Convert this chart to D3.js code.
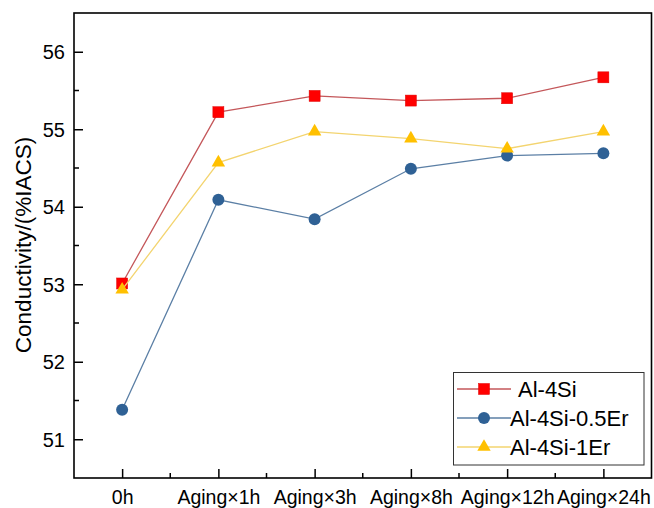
<!DOCTYPE html>
<html>
<head>
<meta charset="utf-8">
<script src="https://cdn.jsdelivr.net/npm/d3@7"></script>
<style>
  body{margin:0;background:#fff;}
  text{font-family:"Liberation Sans", Arial, sans-serif;fill:#000;}
</style>
</head>
<body>
<script>

//******************************************************************************
// Data ************************************************************************

    var categories = ["0h","Aging\u00d71h","Aging\u00d73h","Aging\u00d78h","Aging\u00d712h","Aging\u00d724h"];

    var al4Si      = [53.01, 55.22, 55.43, 55.37, 55.40, 55.67];
    var al4Si05Er  = [51.38, 54.09, 53.84, 54.49, 54.66, 54.69];
    var al4Si1Er   = [52.93, 54.57, 54.97, 54.88, 54.75, 54.97];

    var seriesNames = ["Al-4Si", "Al-4Si-0.5Er", "Al-4Si-1Er"];

    var yTicks = [51, 52, 53, 54, 55, 56];
    var yMinorTicks = [51.5, 52.5, 53.5, 54.5, 55.5];


//******************************************************************************
// Variables *******************************************************************

    var windowSettings = {
        width : 654,//px
        height : 508,//px
    };

    var graphSettings = {
        marginLeft : 74,//px
        marginTop : 13,//px
        right : 651.5,//px
        bottom : 478,//px

        yMin : 50.5,
        yMax : 56.5,

        majorTick : 9,//px
        minorTick : 5,//px
    };

    var styles = [ // one per series
        {lineColor:"#C4575A", markColor:"#FF0000", shape:"square"},
        {lineColor:"#5B7FA5", markColor:"#2F6195", shape:"circle"},
        {lineColor:"#F3D46F", markColor:"#FFC000", shape:"triangle"},
    ];


//******************************************************************************
// Initialization **************************************************************

    var svg = d3.select("body").append("svg")
              .attr("width", windowSettings.width)
              .attr("height", windowSettings.height);

    var xScale = d3.scalePoint()
              .domain(categories)
              .range([graphSettings.marginLeft, graphSettings.right])
              .padding(0.5);

    var yScale = d3.scaleLinear()
              .domain([graphSettings.yMin, graphSettings.yMax])
              .range([graphSettings.bottom, graphSettings.marginTop]);


//******************************************************************************
// Prog ************************************************************************

    addAxes();
    [al4Si, al4Si05Er, al4Si1Er].forEach((values, i) => addSeries(values, styles[i]));
    addLegend();


//******************************************************************************
// Functions *******************************************************************

    function addAxes(){ // frame, ticks, labels

        var g = svg.append("g");
        var step = xScale.step();

        var yAxis = d3.axisLeft(yScale)
              .tickValues(yTicks)
              .tickSize(-graphSettings.majorTick)
              .tickPadding(9)
              .tickFormat(d3.format("d"));

        var yAx = g.append("g")
              .attr("transform", "translate(" + graphSettings.marginLeft + ",0)")
              .call(yAxis);
        yAx.select(".domain").remove();
        yAx.selectAll("text").style("font-size", "20px").attr("dy", "0.35em");
        yAx.selectAll("line").attr("stroke", "#000").attr("stroke-width", 1.5);

        g.selectAll(".yminor") // minor y ticks
              .data(yMinorTicks)
              .enter().append("line")
              .attr("x1", graphSettings.marginLeft)
              .attr("x2", graphSettings.marginLeft + graphSettings.minorTick)
              .attr("y1", d => yScale(d))
              .attr("y2", d => yScale(d))
              .attr("stroke", "#000").attr("stroke-width", 1.5);

        var xAxis = d3.axisBottom(xScale)
              .tickSize(-graphSettings.majorTick)
              .tickPadding(12.5);

        var xAx = g.append("g")
              .attr("transform", "translate(0," + graphSettings.bottom + ")")
              .call(xAxis);
        xAx.select(".domain").remove();
        xAx.selectAll("text").style("font-size", "19.5px");
        xAx.selectAll("line").attr("stroke", "#000").attr("stroke-width", 1.5);

        g.selectAll(".xminor") // minor x ticks, half way between categories
              .data(categories.slice(0, -1))
              .enter().append("line")
              .attr("x1", d => xScale(d) + step / 2)
              .attr("x2", d => xScale(d) + step / 2)
              .attr("y1", graphSettings.bottom)
              .attr("y2", graphSettings.bottom - graphSettings.minorTick)
              .attr("stroke", "#000").attr("stroke-width", 1.5);

        g.append("rect") // frame
              .attr("x", graphSettings.marginLeft)
              .attr("y", graphSettings.marginTop)
              .attr("width", graphSettings.right - graphSettings.marginLeft)
              .attr("height", graphSettings.bottom - graphSettings.marginTop)
              .attr("fill", "none")
              .attr("stroke", "#000")
              .attr("stroke-width", 1.6);

        svg.append("text") // y title
              .text("Conductivity/(%IACS)")
              .attr("transform", "translate(31,245) rotate(-90)")
              .attr("text-anchor", "middle")
              .style("font-size", "22.5px");
    }


    function addMark(sel, shape, color){ // draw one marker centered on 0,0
        if(shape == "square"){
            sel.append("rect").attr("x", -5.5).attr("y", -5.5).attr("width", 11).attr("height", 11)
               .attr("fill", color).attr("stroke", "#E00000").attr("stroke-width", 0.5);
        }else if(shape == "circle"){
            sel.append("circle").attr("r", 6).attr("fill", color);
        }else{
            sel.append("path").attr("d", d3.symbol().type(d3.symbolTriangle).size(78)())
               .attr("fill", color);
        }
    }


    function addSeries(values, style){ // line + markers

        var line = d3.line()
              .x((d, i) => xScale(categories[i]))
              .y(d => yScale(d));

        svg.append("path")
              .datum(values)
              .attr("d", line)
              .attr("fill", "none")
              .attr("stroke", style.lineColor)
              .attr("stroke-width", 1.3);

        values.forEach((v, i) => {
            var m = svg.append("g")
                  .attr("transform", "translate(" + xScale(categories[i]) + "," + yScale(v) + ")");
            addMark(m, style.shape, style.markColor);
        });
    }


    function addLegend(){ // legend box lower right

        var lg = svg.append("g");

        lg.append("rect")
              .attr("x", 453.5).attr("y", 372.5)
              .attr("width", 190.5).attr("height", 92.5)
              .attr("fill", "#fff")
              .attr("stroke", "#333")
              .attr("stroke-width", 1);

        seriesNames.forEach((name, i) => {
            var y = 389 + i * 29;
            lg.append("line")
                  .attr("x1", 457).attr("x2", 511)
                  .attr("y1", y).attr("y2", y)
                  .attr("stroke", styles[i].lineColor)
                  .attr("stroke-width", 1.3);
            var m = lg.append("g").attr("transform", "translate(484," + y + ")");
            addMark(m, styles[i].shape, styles[i].markColor);
            lg.append("text")
                  .text(name)
                  .attr("x", i == 0 ? 518 : 510)
                  .attr("y", y)
                  .attr("dy", "0.36em")
                  .style("font-size", "22px");
        });
    }

</script>
</body>
</html>
